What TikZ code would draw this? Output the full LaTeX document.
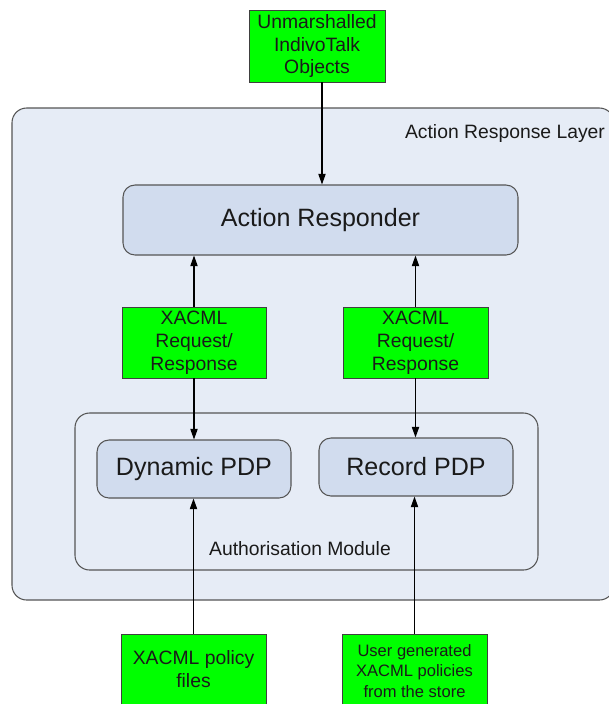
\documentclass[tikz,border=0pt]{standalone}
\usepackage{fontspec}
\setmainfont{Liberation Sans}
\usetikzlibrary{fit,arrows.meta}
\definecolor{layerfill}{HTML}{E6ECF6}
\definecolor{compfill}{HTML}{D1DCEE}
\definecolor{msgfill}{HTML}{00FF00}
\definecolor{edgegray}{HTML}{555555}
\definecolor{ink}{HTML}{1A1A1A}
\tikzset{
  layer/.style={draw=edgegray, fill=layerfill, rounded corners=11pt, line width=0.8pt, inner sep=0pt},
  comp/.style={draw=edgegray, fill=compfill, rounded corners=9pt, line width=0.8pt, inner sep=0pt},
  msg/.style={draw=black!75, fill=msgfill, inner sep=0pt, line width=0.6pt},
  comptext/.style={text=ink, inner sep=0pt, font=\fontsize{18.8}{22}\selectfont},
  msgtext/.style={text=ink, inner sep=0pt, align=center, font=\fontsize{14.5}{17.2}\selectfont},
  smalltext/.style={text=ink, inner sep=0pt, align=center, font=\fontsize{12.4}{15.3}\selectfont},
  caption/.style={text=ink, font=\fontsize{14.5}{17}\selectfont, inner sep=0pt},
  flow/.style={-{Triangle[length=8pt,width=5.5pt]}, line width=0.8pt, draw=black},
}
\begin{document}
\begin{tikzpicture}[x=0.75pt, y=-0.75pt]
  \useasboundingbox (0,0) rectangle (609,704);
  \clip (0,0) rectangle (609,704);

  % containers
  \node[layer, fit={(12,108) (614,600)}] (layer) {};
  \node[caption] (layerlbl) at (505,133) {Action Response Layer};
  \node[layer, fit={(75,413) (538,570)}] (authmod) {};
  \node[caption] (authlbl) at (300,549) {Authorisation Module};

  % components
  \node[comp, fit={(123,185) (518,255)}] (responder) {};
  \node[comptext] (respondertxt) at (responder.center) {Action Responder};
  \node[comp, fit={(97,440) (291,498)}] (dynpdp) {};
  \node[comptext] (dynpdptxt) at (dynpdp.center) {Dynamic PDP};
  \node[comp, fit={(319,438) (513,496)}] (recpdp) {};
  \node[comptext] (recpdptxt) at (recpdp.center) {Record PDP};

  % messages and inputs
  \node[msg, fit={(249,10) (385,82)}] (objects) {};
  \node[msgtext] (objectstxt) at (objects.center) {Unmarshalled\\IndivoTalk\\Objects};
  \node[msg, fit={(122,307) (266,378)}] (req1) {};
  \node[msgtext] (req1txt) at (req1.center) {XACML\\Request/\\Response};
  \node[msg, fit={(343,307) (488,378)}] (req2) {};
  \node[msgtext] (req2txt) at (req2.center) {XACML\\Request/\\Response};
  \node[msg, fit={(121,634) (266,707)}] (polfiles) {};
  \node[msgtext] (polfilestxt) at (193.5,669.5) {XACML policy\\files};
  \node[msg, fit={(342,634) (487,707)}] (userpol) {};
  \node[smalltext] (userpoltxt) at (414.5,671) {User generated\\XACML policies\\from the store};

  % connectors
  \coordinate (objx) at (322,0);
  \draw[flow] (objects.south -| objx) -- (responder.north -| objx);
  \draw[flow] (req1.north) -- (req1.north |- responder.south);
  \draw[flow] (req2.north) -- (req2.north |- responder.south);
  \draw[flow] (req1.south) -- (req1.south |- dynpdp.north);
  \draw[flow] (req2.south) -- (req2.south |- recpdp.north);
  \draw[flow] (polfiles.north) -- (polfiles.north |- dynpdp.south);
  \draw[flow] (userpol.north) -- (userpol.north |- recpdp.south);
\end{tikzpicture}
\end{document}
